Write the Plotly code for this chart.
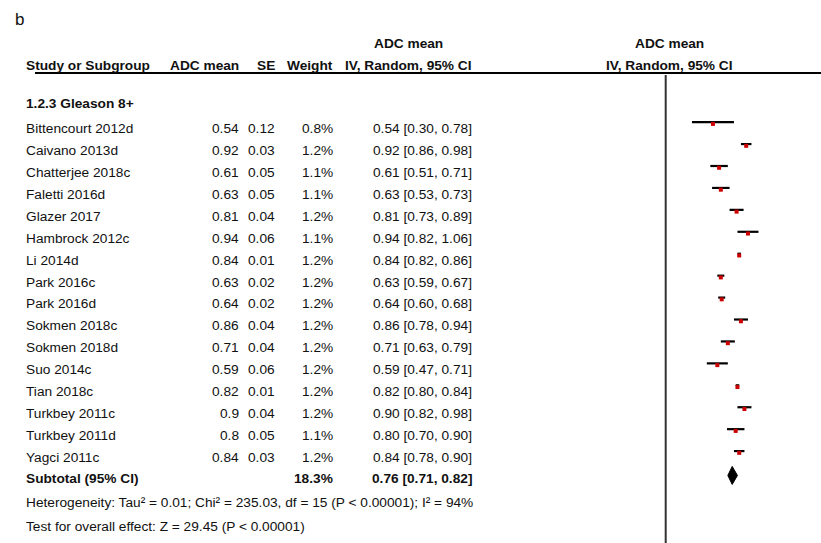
import plotly.graph_objects as go

# Gleason 8+ subgroup: per-study ADC mean, SE, weight and 95% CI
studies = [
    "Bittencourt 2012d", "Caivano 2013d", "Chatterjee 2018c", "Faletti 2016d",
    "Glazer 2017", "Hambrock 2012c", "Li 2014d", "Park 2016c", "Park 2016d",
    "Sokmen 2018c", "Sokmen 2018d", "Suo 2014c", "Tian 2018c", "Turkbey 2011c",
    "Turkbey 2011d", "Yagci 2011c",
]
adc_mean = [0.54, 0.92, 0.61, 0.63, 0.81, 0.94, 0.84, 0.63, 0.64, 0.86, 0.71,
            0.59, 0.82, 0.9, 0.8, 0.84]
se = [0.12, 0.03, 0.05, 0.05, 0.04, 0.06, 0.01, 0.02, 0.02, 0.04, 0.04, 0.06,
      0.01, 0.04, 0.05, 0.03]
weight = [0.8, 1.2, 1.1, 1.1, 1.2, 1.1, 1.2, 1.2, 1.2, 1.2, 1.2, 1.2, 1.2, 1.2,
          1.1, 1.2]
ci_low = [0.30, 0.86, 0.51, 0.53, 0.73, 0.82, 0.82, 0.59, 0.60, 0.78, 0.63,
          0.47, 0.80, 0.82, 0.70, 0.78]
ci_high = [0.78, 0.98, 0.71, 0.73, 0.89, 1.06, 0.86, 0.67, 0.68, 0.94, 0.79,
           0.71, 0.84, 0.98, 0.90, 0.90]

subtotal_weight = 18.3
subtotal_est = 0.76
subtotal_low = 0.71
subtotal_high = 0.82

heterogeneity = "Heterogeneity: Tau² = 0.01; Chi² = 235.03, df = 15 (P < 0.00001); I² = 94%"
overall = "Test for overall effect: Z = 29.45 (P < 0.00001)"

W, H = 821, 543
FONT = "Liberation Sans, Arial, Helvetica, sans-serif"
TXT = "#111111"
FS = 13.7

# vertical layout in row units (one study row per unit)
ROW0_PX, ROW_PX = 128.5, 21.93


def row_of(px):
    return (px - ROW0_PX) / ROW_PX


def xp(px):
    return px / W


rows = list(range(len(studies)))
sub_row = rows[-1] + 0.96

# forest axis: effect 0 sits at the reference line
X0_PX, X_SCALE = 665.7, 87.5
x_range = [-X0_PX / X_SCALE, (W - X0_PX) / X_SCALE]

fig = go.Figure()

# confidence interval lines
fig.add_trace(go.Scatter(
    x=adc_mean,
    y=[r - 0.29 for r in rows],
    mode="markers",
    marker=dict(size=1, color="rgba(0,0,0,0)"),
    error_x=dict(
        type="data", symmetric=False,
        array=[h - m for h, m in zip(ci_high, adc_mean)],
        arrayminus=[m - l for m, l in zip(adc_mean, ci_low)],
        color="black", thickness=2.2, width=0,
    ),
    hoverinfo="skip", showlegend=False,
))

# point estimates
fig.add_trace(go.Scatter(
    x=adc_mean,
    y=[r - 0.21 for r in rows],
    mode="markers",
    marker=dict(symbol="square", size=4, color="#cc0000", line=dict(width=0)),
    hoverinfo="skip", showlegend=False,
))

# pooled estimate diamond
dy = 0.41
dr = sub_row - 0.14
fig.add_trace(go.Scatter(
    x=[subtotal_low, subtotal_est, subtotal_high, subtotal_est, subtotal_low],
    y=[dr, dr - dy, dr, dr + dy, dr],
    mode="lines", fill="toself", fillcolor="black",
    line=dict(color="black", width=1),
    hoverinfo="skip", showlegend=False,
))

# line of no effect
fig.add_shape(type="line", xref="x", yref="y", x0=0, x1=0,
              y0=row_of(75), y1=row_of(H + 5),
              line=dict(color="#333333", width=2))
# header rule
fig.add_shape(type="line", xref="paper", yref="y", x0=xp(35), x1=1,
              y0=row_of(73), y1=row_of(73),
              line=dict(color="black", width=2.2))

ann = []


def text(s, px, row, anchor="left", bold=False, size=FS):
    ann.append(dict(
        text=f"<b>{s}</b>" if bold else s,
        x=xp(px), xref="paper", y=row, yref="y",
        xanchor=anchor, yanchor="middle", showarrow=False,
        font=dict(family=FONT, size=size, color=TXT),
    ))


text("b", 13, row_of(19), size=17)

# column headers
text("ADC mean", 408, row_of(43), "center", True)
text("ADC mean", 669, row_of(43), "center", True)
text("Study or Subgroup", 24, row_of(65), "left", True)
text("ADC mean", 241, row_of(65), "right", True)
text("SE", 277, row_of(65), "right", True)
text("Weight", 335, row_of(65), "right", True)
text("IV, Random, 95% CI", 408, row_of(65), "center", True)
text("IV, Random, 95% CI", 669, row_of(65), "center", True)

text("1.2.3 Gleason 8+", 24, row_of(103), "left", True)

for r, s, m, e, w, lo, hi in zip(rows, studies, adc_mean, se, weight, ci_low, ci_high):
    text(s, 24, r)
    text(f"{m:g}", 241, r, "right")
    text(f"{e:.2f}", 277, r, "right")
    text(f"{w:.1f}%", 335, r, "right")
    text(f"{m:.2f} [{lo:.2f}, {hi:.2f}]", 474, r, "right")

text("Subtotal (95% CI)", 24, sub_row, "left", True)
text(f"{subtotal_weight:.1f}%", 335, sub_row, "right", True)
text(f"{subtotal_est:.2f} [{subtotal_low:.2f}, {subtotal_high:.2f}]", 474, sub_row, "right", True)

text(heterogeneity, 24, row_of(502))
text(overall, 24, row_of(526))

fig.update_layout(
    width=W, height=H,
    margin=dict(l=0, r=0, t=0, b=0),
    paper_bgcolor="white", plot_bgcolor="white",
    xaxis=dict(range=x_range, domain=[0, 1], visible=False, fixedrange=True),
    yaxis=dict(range=[row_of(H), row_of(0)], domain=[0, 1], visible=False, fixedrange=True),
    annotations=ann,
    showlegend=False,
)

fig.write_html("out.html", config={"displayModeBar": False})
